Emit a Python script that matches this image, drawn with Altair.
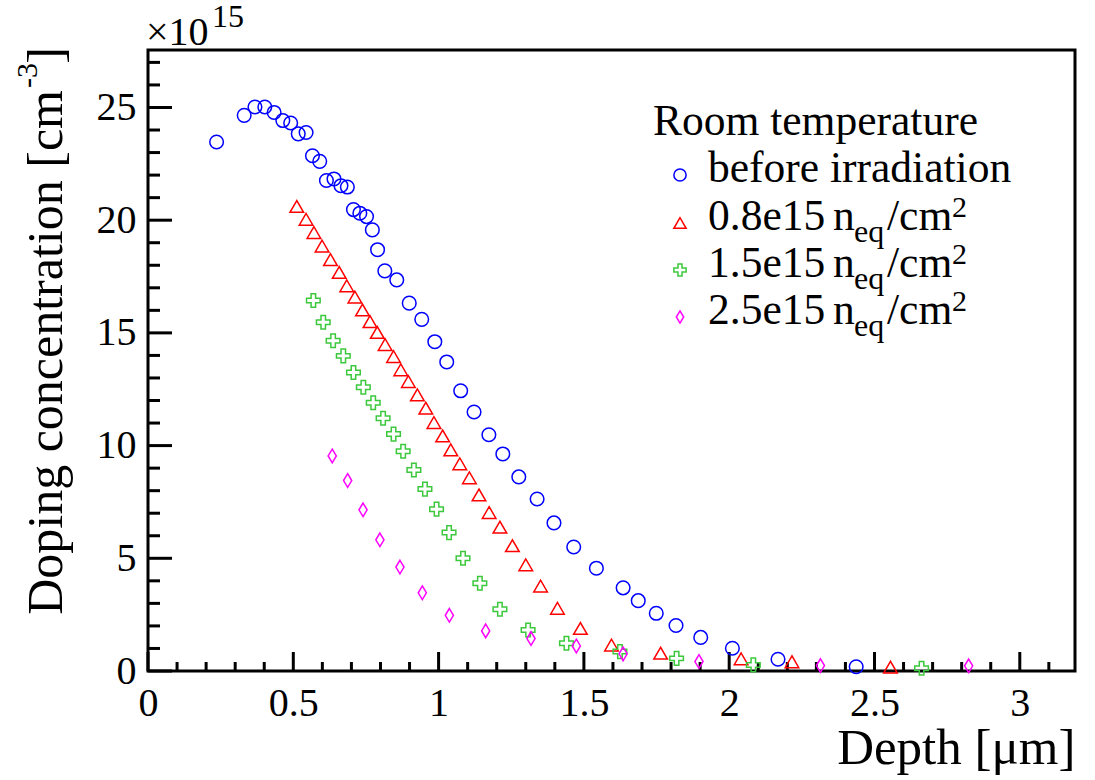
import altair as alt
import pandas as pd

# ---------------- data ----------------
before_x = [0.236, 0.331, 0.368, 0.402, 0.434, 0.464, 0.491, 0.517, 0.544, 0.566,
            0.591, 0.614, 0.640, 0.664, 0.686, 0.707, 0.729, 0.752, 0.772, 0.790,
            0.815, 0.856, 0.899, 0.942, 0.987, 1.028, 1.076, 1.122, 1.173, 1.221,
            1.276, 1.339, 1.397, 1.465, 1.543, 1.635, 1.687, 1.749, 1.817, 1.902,
            2.011, 2.168, 2.437]
before_y = [23.47, 24.65, 25.02, 25.02, 24.78, 24.42, 24.31, 23.83, 23.89, 22.86,
            22.61, 21.76, 21.83, 21.53, 21.47, 20.47, 20.31, 20.16, 19.57, 18.69,
            17.75, 17.35, 16.32, 15.60, 14.61, 13.71, 12.43, 11.49, 10.48, 9.63,
            8.61, 7.63, 6.57, 5.50, 4.56, 3.69, 3.12, 2.56, 2.02, 1.49,
            1.01, 0.52, 0.19]

f08_x = [0.512, 0.544, 0.571, 0.599, 0.628, 0.658, 0.684, 0.712, 0.738, 0.764,
         0.789, 0.816, 0.845, 0.870, 0.896, 0.927, 0.956, 0.984, 1.014, 1.042,
         1.073, 1.106, 1.139, 1.174, 1.211, 1.254, 1.300, 1.351, 1.409, 1.488,
         1.595, 1.764, 2.041, 2.216, 2.555]
f08_y = [20.61, 20.04, 19.45, 18.85, 18.25, 17.68, 17.09, 16.59, 16.02, 15.50,
         15.02, 14.48, 13.95, 13.36, 12.84, 12.25, 11.66, 11.02, 10.43, 9.81,
         9.19, 8.57, 7.81, 7.03, 6.38, 5.56, 4.71, 3.77, 2.78, 1.89,
         1.15, 0.79, 0.54, 0.41, 0.17]

f15_x = [0.569, 0.603, 0.637, 0.672, 0.707, 0.741, 0.775, 0.809, 0.845, 0.878,
         0.915, 0.953, 0.993, 1.036, 1.084, 1.142, 1.211, 1.308, 1.440, 1.624,
         1.819, 2.083, 2.662]
f15_y = [16.44, 15.47, 14.65, 13.98, 13.24, 12.59, 11.90, 11.21, 10.51, 9.75,
         8.92, 8.07, 7.18, 6.14, 5.00, 3.89, 2.74, 1.82, 1.23, 0.86,
         0.56, 0.27, 0.12]

f25_x = [0.634, 0.687, 0.740, 0.798, 0.867, 0.944, 1.037, 1.162, 1.318, 1.474,
         1.635, 1.896, 2.314, 2.824]
f25_y = [9.54, 8.45, 7.15, 5.82, 4.61, 3.47, 2.47, 1.78, 1.44, 1.11,
         0.76, 0.42, 0.24, 0.23]

series_names = ["before irradiation", "0.8e15", "1.5e15", "2.5e15"]
series_colors = ["#0000ff", "#ff0000", "#3cc83c", "#ff00ff"]
cross_path = ("M-0.33,-1L0.33,-1L0.33,-0.33L1,-0.33L1,0.33L0.33,0.33L0.33,1"
              "L-0.33,1L-0.33,0.33L-1,0.33L-1,-0.33L-0.33,-0.33Z")
diamond_path = "M0,-1L0.6,0L0,1L-0.6,0Z"
series_shapes = ["circle", "triangle-up", cross_path, diamond_path]

x_major = [0, 0.5, 1, 1.5, 2, 2.5, 3]
x_minor = [0.1, 0.2, 0.3, 0.4, 0.6, 0.7, 0.8, 0.9, 1.1, 1.2, 1.3, 1.4, 1.6, 1.7,
           1.8, 1.9, 2.1, 2.2, 2.3, 2.4, 2.6, 2.7, 2.8, 2.9, 3.1]
y_major = [0, 5, 10, 15, 20, 25]
y_minor = [1, 2, 3, 4, 6, 7, 8, 9, 11, 12, 13, 14, 16, 17, 18, 19, 21, 22, 23, 24, 26, 27]

legend_title = "Room temperature"
legend_prefix = ["before irradiation", "0.8e15", "1.5e15", "2.5e15"]

# ---------------- layout / style ----------------
W, H = 927, 621
FONT = "Liberation Serif, Times New Roman, Times, serif"
XMAX, YMAX = 3.19, 27.55
LFS = 43.5  # legend font size

frames = []
for name, xs, ys in [(series_names[0], before_x, before_y),
                     (series_names[1], f08_x, f08_y),
                     (series_names[2], f15_x, f15_y),
                     (series_names[3], f25_x, f25_y)]:
    frames.append(pd.DataFrame({"x": xs, "y": ys, "series": name}))
pts = pd.concat(frames, ignore_index=True)

xscale = alt.Scale(domain=[0, XMAX], nice=False, zero=False)
yscale = alt.Scale(domain=[0, YMAX], nice=False, zero=False)
color_enc = alt.Color("series:N", scale=alt.Scale(domain=series_names, range=series_colors), legend=None)
shape_enc = alt.Shape("series:N", scale=alt.Scale(domain=series_names, range=series_shapes), legend=None)

points = alt.Chart(pts).mark_point(filled=False, strokeWidth=1.5, size=185, opacity=1).encode(
    x=alt.X("x:Q", scale=xscale, axis=alt.Axis(
        values=x_major, labelExpr="'' + datum.value", ticks=False, domain=False, grid=False,
        labelFont=FONT, labelFontSize=40, labelColor="black", labelPadding=12,
        labelFlush=False, labelOverlap=False,
        title="Depth [μm]", titleFont=FONT, titleFontSize=51, titleFontWeight="normal",
        titleColor="black", titleAlign="right", titleX=W, titleY=92,
        titleBaseline="alphabetic")),
    y=alt.Y("y:Q", scale=yscale, axis=alt.Axis(
        values=y_major, labelExpr="'' + datum.value", ticks=False, domain=False, grid=False,
        labelFont=FONT, labelFontSize=40, labelColor="black", labelPadding=12,
        labelFlush=False, labelOverlap=False, title=None)),
    color=color_enc,
    shape=shape_enc,
)

def xticks(vals, length):
    return alt.Chart(pd.DataFrame({"v": vals})).mark_rule(color="black", strokeWidth=3).encode(
        x=alt.X("v:Q", scale=xscale), y=alt.value(H), y2=alt.value(H - length))

def yticks(vals, length):
    return alt.Chart(pd.DataFrame({"v": vals})).mark_rule(color="black", strokeWidth=3).encode(
        y=alt.Y("v:Q", scale=yscale), x=alt.value(0), x2=alt.value(length))

one = pd.DataFrame({"a": [0]})

def txt(s, x, y, size, align="left", angle=0):
    kw = dict(font=FONT, fontSize=size, color="black", align=align, baseline="alphabetic")
    if angle:
        kw["angle"] = angle
    return alt.Chart(one).mark_text(**kw).encode(
        x=alt.value(x), y=alt.value(y), text=alt.value(s))

texts = [
    # x10^15 multiplier
    txt("×10", -2, -5, 40),
    txt("15", 64, -23, 32),
    # y title, rotated
    txt("Doping concentration [cm", -86, 40, 50, align="right", angle=270),
    txt("-3", -111, 13, 30, align="right", angle=270),
    txt("]", -86, -3, 50, align="right", angle=270),
    # legend
    txt(legend_title, 505, 85, LFS),
]
row_y = [132, 180, 227, 274]
for i, pre in enumerate(legend_prefix):
    texts.append(txt(pre, 560, row_y[i], LFS))
    if i > 0:
        texts.append(txt("n", 685, row_y[i], LFS))
        texts.append(txt("eq", 706, row_y[i] + 12, 32))
        texts.append(txt("/cm", 739, row_y[i], LFS))
        texts.append(txt("2", 804, row_y[i] - 13, 30))

leg_df = pd.DataFrame({"series": series_names, "py": [r - 7 for r in row_y]})
leg_marks = alt.Chart(leg_df).mark_point(filled=False, strokeWidth=1.5, size=150, opacity=1).encode(
    x=alt.value(532),
    y=alt.Y("py:Q", scale=None),
    color=color_enc,
    shape=shape_enc,
)

chart = alt.layer(
    xticks(x_major, 19), xticks(x_minor, 9), yticks(y_major, 24), yticks(y_minor, 12),
    points, leg_marks, *texts
).properties(
    width=W, height=H,
    autosize=alt.AutoSizeParams(type="none"),
    padding={"left": 148, "top": 50, "right": 20, "bottom": 109},
    background="white",
).configure_view(stroke="black", strokeWidth=3)

chart.save("out.html", embed_options={"renderer": "svg", "actions": False})
